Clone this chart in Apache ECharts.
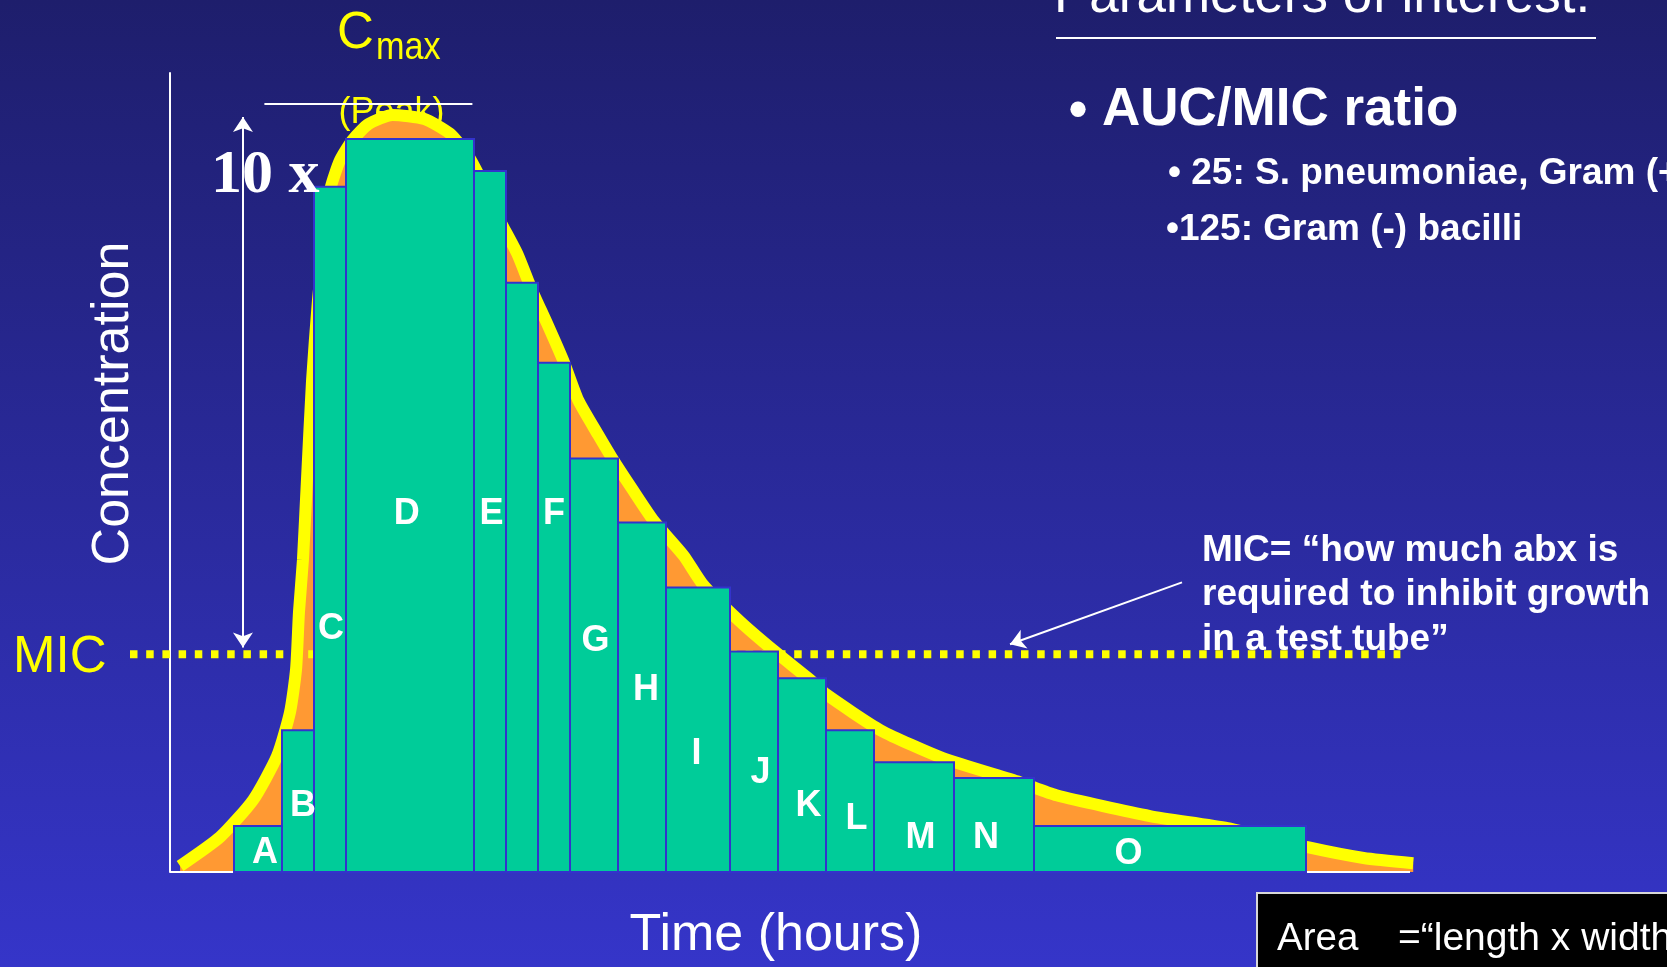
<!DOCTYPE html>
<html>
<head>
<meta charset="utf-8">
<script src="https://cdn.jsdelivr.net/npm/echarts@6/dist/echarts.min.js"></script>
<style>
  html, body { margin: 0; padding: 0; overflow: hidden; background: #2a2a9a; }
  #chart { width: 1667px; height: 967px; }
</style>
</head>
<body>
<div id="chart"></div>
<script>
// Rectangles approximating the area under the curve (time in hours, concentration in arbitrary units)
const stepStart = [4, 7, 9, 11, 19, 21, 23, 25, 28, 31, 35, 38, 41, 44, 49, 54];
const stepEnd   = [7, 9, 11, 19, 21, 23, 25, 28, 31, 35, 38, 41, 44, 49, 54, 71];
const stepConc  = [5.75, 17.75, 85.75, 91.75, 87.75, 73.75, 63.75, 51.75, 43.75, 35.6, 27.6, 24.25, 17.75, 13.75, 11.75, 5.75];

// Rectangle names and where each name sits (time, concentration)
const letters    = ['A', 'B', 'C', 'D', 'E', 'F', 'G', 'H', 'I', 'J', 'K', 'L', 'M', 'N', 'O'];
const letterTime = [5.94, 8.31, 10.06, 14.8, 20.1, 24.0, 26.6, 29.75, 32.9, 36.9, 39.9, 42.9, 46.9, 51.0, 59.9];
const letterConc = [2.4, 8.25, 30.4, 44.75, 44.75, 44.75, 28.9, 22.75, 14.75, 12.4, 8.25, 6.6, 4.25, 4.25, 2.25];

// Concentration-time curve
const curveTime = [0.63, 3.13, 5.19, 6.69, 7.5, 7.88, 8.06, 8.31, 8.56, 8.88, 9.25, 9.69, 10.06, 10.63, 11.4, 12.4, 13.9,
  15.9, 17.5, 18.6, 19.6, 20.6, 21.7, 22.6, 23.6, 24.6, 25.5, 26.75, 27.6, 28.9, 30.25, 32.1, 33.3, 35.6, 37.8, 40.1, 41.0,
  44.4, 48.3, 53.1, 55.4, 61.25, 66.1, 71.1, 74.6, 77.7];
const curveConc = [0.75, 4.38, 9.0, 14.5, 20.0, 25.4, 32.5, 39.1, 49.1, 61.6, 71.6, 80.4, 85.75, 89.1, 91.6, 93.6, 94.75,
  94.25, 92.4, 89.75, 86.0, 81.6, 77.4, 72.9, 68.5, 63.9, 59.1, 54.75, 51.9, 47.9, 43.9, 39.6, 36.0, 31.4, 27.6, 23.9, 22.25,
  17.75, 14.25, 11.25, 9.6, 7.0, 5.5, 3.1, 1.75, 1.1];

// Reference levels
const micLevel = 27.25;      // minimum inhibitory concentration
const peakLevel = 96.1;      // Cmax marker line
const micSpan = [-2.5, 76.9];
const peakSpan = [5.9, 18.9];
const timeSpan = [0, 77.5];  // drawn time axis
const tenfoldTime = 4.56;    // position of the 10x double arrow
const tenfoldSpan = [28.1, 94.5];
const pointerFrom = [63.25, 36.25];
const pointerTo = [52.5, 28.5];

const FONT = '"Liberation Sans", Arial, sans-serif';
const chart = echarts.init(document.getElementById('chart'), null, { renderer: 'canvas' });

function label(x, y, text, font, fill, extra, align) {
  const a = align || 'left';
  return Object.assign({
    type: 'text', x: x, y: y, z: 100, silent: true,
    style: { text: text, x: 0, y: 0, font: font, fill: fill,
             align: a, textAlign: a, verticalAlign: 'middle', textVerticalAlign: 'middle' }
  }, extra || {});
}

const option = {
  animation: false,
  backgroundColor: {
    type: 'linear', x: 0, y: 0, x2: 0, y2: 1,
    colorStops: [{ offset: 0, color: '#1e1e6c' }, { offset: 1, color: '#3535c9' }]
  },
  textStyle: { fontFamily: FONT },
  grid: { left: 122, right: 257, top: 73, bottom: 94 },
  xAxis: {
    type: 'value', min: -3, max: 77.5,
    name: 'Time (hours)', nameLocation: 'middle', nameGap: 38,
    nameTextStyle: { color: '#ffffff', fontSize: 52, fontFamily: FONT, padding: [0, 0, 0, 20] },
    axisLine: { show: false },
    axisTick: { show: false }, axisLabel: { show: false }, splitLine: { show: false }
  },
  yAxis: {
    type: 'value', min: 0, max: 100,
    name: 'Concentration', nameLocation: 'middle', nameGap: -18,
    nameTextStyle: { color: '#ffffff', fontSize: 52, fontFamily: FONT, padding: [0, 0, 0, 138] },
    axisLine: { onZero: true, lineStyle: { color: '#ffffff', width: 2 } },
    axisTick: { show: false }, axisLabel: { show: false }, splitLine: { show: false }
  },
  series: [
    {
      type: 'line', name: 'Concentration curve', z: 2, silent: true,
      data: curveTime.map((t, i) => [t, curveConc[i]]),
      symbol: 'none', smooth: 0.2,
      lineStyle: { color: '#ffff00', width: 12 },
      areaStyle: { color: '#ff9933', opacity: 1 }
    },
    {
      type: 'line', name: 'Time axis', z: 3, silent: true,
      data: [[timeSpan[0], 0], [timeSpan[1], 0]],
      symbol: 'none',
      lineStyle: { color: '#ffffff', width: 2 }
    },
    {
      type: 'line', name: 'MIC', z: 3, silent: true,
      data: [[micSpan[0], micLevel], [micSpan[1], micLevel]],
      symbol: 'none',
      lineStyle: { color: '#ffff00', width: 8, type: [7.5, 8.7], cap: 'butt' },
      markLine: {
        silent: true, animation: false,
        label: { show: false },
        lineStyle: { color: '#ffffff', width: 2, type: 'solid' },
        symbolSize: [15, 15],
        data: [
          [{ coord: [tenfoldTime, tenfoldSpan[0]], symbol: 'arrow' }, { coord: [tenfoldTime, tenfoldSpan[1]], symbol: 'arrow' }],
          [{ coord: pointerFrom, symbol: 'none' }, { coord: pointerTo, symbol: 'arrow' }],
          [{ coord: [peakSpan[0], peakLevel], symbol: 'none' }, { coord: [peakSpan[1], peakLevel], symbol: 'none' }]
        ]
      }
    },
    {
      type: 'custom', name: 'Rectangles', z: 4, silent: true, clip: false,
      data: stepStart.map((s, i) => [s, stepEnd[i], stepConc[i]]),
      encode: { x: [0, 1], y: 2 },
      renderItem: function (params, api) {
        const tl = api.coord([api.value(0), api.value(2)]);
        const br = api.coord([api.value(1), 0]);
        return {
          type: 'rect',
          shape: { x: tl[0], y: tl[1], width: br[0] - tl[0], height: br[1] - tl[1] },
          style: { fill: '#00cc99', stroke: '#3333cc', lineWidth: 2 }
        };
      }
    },
    {
      type: 'custom', name: 'Rectangle names', z: 5, silent: true, clip: false,
      data: letterTime.map((t, i) => [t, letterConc[i]]),
      encode: { x: 0, y: 1 },
      renderItem: function (params, api) {
        const p = api.coord([api.value(0), api.value(1)]);
        return {
          type: 'text', x: p[0], y: p[1],
          style: {
            text: letters[params.dataIndex], x: 0, y: 0,
            font: 'bold 36px ' + FONT, fill: '#ffffff',
            align: 'center', textAlign: 'center', verticalAlign: 'middle', textVerticalAlign: 'middle',
            shadowColor: 'rgba(0,0,0,0.85)', shadowBlur: 2, shadowOffsetX: 2, shadowOffsetY: 2
          }
        };
      }
    }
  ],
  graphic: [
    // peak annotation (behind the curve)
    Object.assign(label(391.5, 113, '(Peak)', '36px ' + FONT, '#ffff00', null, 'center'), { z: 0 }),
    label(337, 34, 'C', '51px ' + FONT, '#ffff00'),
    label(376, 49, 'max', '38px ' + FONT, '#ffff00', { scaleX: 0.9 }),
    label(211, 176, '10 x', 'bold 62px "Liberation Serif", "Times New Roman", serif', '#ffffff'),
    label(13, 658, 'MIC', '51px ' + FONT, '#ffff00'),
    // right-hand notes
    label(1054, -3, 'Parameters of interest:', '53px ' + FONT, '#ffffff'),
    { type: 'line', z: 100, silent: true, shape: { x1: 1056, y1: 38, x2: 1596, y2: 38 }, style: { stroke: '#ffffff', lineWidth: 2 } },
    label(1078, 112, '•', 'bold 53px ' + FONT, '#ffffff', null, 'center'),
    label(1102, 110, 'AUC/MIC ratio', 'bold 53px ' + FONT, '#ffffff'),
    label(1168, 174, '• 25: S. pneumoniae, Gram (+)', 'bold 37px ' + FONT, '#ffffff'),
    label(1166, 230, '•125: Gram (-) bacilli', 'bold 37px ' + FONT, '#ffffff'),
    label(1202, 551, 'MIC= “how much abx is', 'bold 37px ' + FONT, '#ffffff'),
    label(1202, 595, 'required to inhibit growth', 'bold 37px ' + FONT, '#ffffff'),
    label(1202, 640, 'in a test tube”', 'bold 37px ' + FONT, '#ffffff'),
    // area note box
    { type: 'rect', z: 100, silent: true, shape: { x: 1257, y: 893, width: 430, height: 90 }, style: { fill: '#000000', stroke: '#d8d8d8', lineWidth: 2 } },
    label(1277, 939, 'Area', '38.5px ' + FONT, '#ffffff'),
    label(1398, 939, '=“length x width”', '39px ' + FONT, '#ffffff')
  ]
};

chart.setOption(option);
</script>
</body>
</html>
